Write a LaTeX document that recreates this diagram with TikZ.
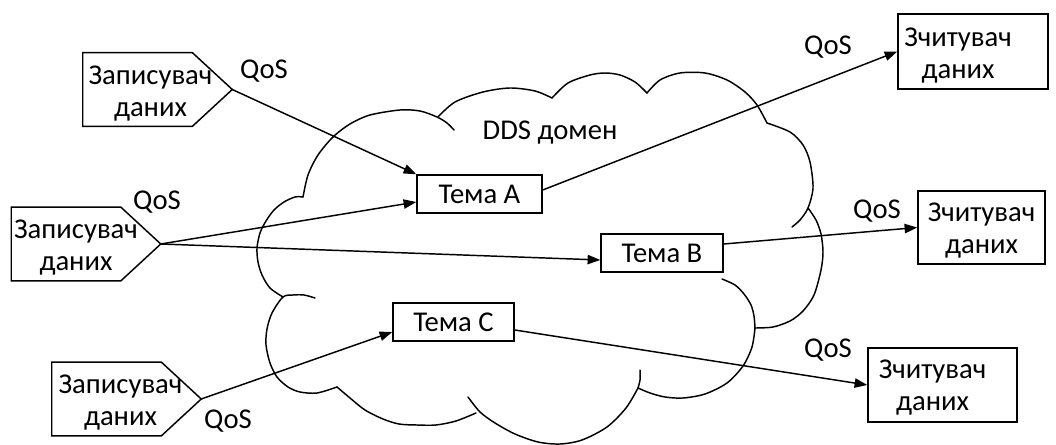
\documentclass[tikz,border=0pt]{standalone}
\usepackage{fontspec}
\setmainfont{Carlito}
\usetikzlibrary{arrows.meta,calc}
\begin{document}
\begin{tikzpicture}[x=0.75pt,y=-0.75pt,
  txt/.style={font=\fontsize{21.5}{24}\selectfont,inner sep=0pt,align=center},
  ln/.style={line width=1.1pt},
  conn/.style={ln,-{Triangle[length=9.5pt,width=7pt]}},
  topic/.style={txt,draw,ln,fill=white,rectangle,minimum height=28.5pt},
  framebox/.style={draw,ln,rectangle,inner sep=0pt},
  wframe/.style={rectangle,inner sep=0pt,minimum width=111.75pt,minimum height=55pt},
  cloudline/.style={ln,line join=round,line cap=round}]
\useasboundingbox (0,0) rectangle (1056,445);
% cloud
\draw[cloudline] plot[smooth] coordinates {(303,197) (308,175) (318,155) (333,137) (350,124) (370,115) (400,110) (420,111) (437,117) (447,123) (454,130)};
\draw[cloudline] plot[smooth] coordinates {(438,117) (455,102) (483,92) (510,88) (535,91) (552,98)};
\draw[cloudline] plot[smooth] coordinates {(552,98) (568,83) (590,75) (605,73) (620,75) (635,82) (647,93)};
\draw[cloudline] plot[smooth] coordinates {(647,93) (660,80) (680,73) (705,73) (727,80) (745,92) (757,105) (767,123)};
\draw[cloudline] plot[smooth] coordinates {(767,123) (790,132) (803,145) (810,162) (813,188) (808,208) (800,220) (792,227)};
\draw[cloudline] plot[smooth] coordinates {(808,208) (816,220) (821,234) (823,252) (821,270) (814,295) (803,311) (790,321) (773,327) (755,328)};
\draw[cloudline] plot[smooth] coordinates {(722,279) (735,285) (744,294) (751,305) (754,316) (755,328)};
\draw[cloudline] plot[smooth] coordinates {(755,328) (752,347) (743,366) (727,383) (705,394) (683,398) (665,397) (650,393) (638,388)};
\draw[cloudline] plot[smooth] coordinates {(640,370) (640,380) (638,388)};
\draw[cloudline] plot[smooth] coordinates {(638,388) (626,408) (607,427) (582,440) (560,444) (538,442) (515,434) (495,423) (480,412) (468,397)};
\draw[cloudline] plot[smooth] coordinates {(476,413) (456,421) (436,425) (417,425) (399,424) (383,419) (365,410) (350,398) (337,387)};
\draw[cloudline] plot[smooth] coordinates {(337,387) (317,393) (300,392) (288,387) (277,377) (270,363) (266,345) (267,329) (272,313) (283,297) (293,295) (304,295) (315,298)};
\draw[cloudline] plot[smooth] coordinates {(283,297) (270,288) (262,275) (258,262) (257,248) (260,233) (266,221) (274,210) (284,202) (295,197) (303,197)};
\node[txt] (dds) at (550,133) {DDS домен};
% writers
\foreach \n/\x/\y/\dx in {w1/157.5/89.5/-7, w2/86/244/-10, w3/126.5/399/-6}{
  \node[wframe] (\n) at (\x,\y) {};
  \draw[ln,line join=miter] (\n.north west) -- ($(\n.north east)+(-40,0)$) -- (\n.east)
     -- ($(\n.south east)+(-40,0)$) -- (\n.south west) -- cycle;
  \node[txt] (\n t) at ($(\n.center)+(\dx,4)$) {Записувач\\даних};
}
% topics
\node[topic,minimum width=93.75pt] (A) at (479.5,194) {Тема A};
\node[topic,minimum width=91.5pt] (B) at (662,253) {Тема B};
\node[topic,minimum width=90.75pt] (C) at (453.5,322) {Тема C};
% readers
\node[framebox,minimum width=112.5pt,minimum height=56.25pt] (r1) at (973,51.5) {};
\node[framebox,minimum width=95.25pt,minimum height=54.75pt] (r2) at (981.5,227.5) {};
\node[framebox,minimum width=111.75pt,minimum height=55.5pt] (r3) at (942.5,385) {};
\node[txt] (r1t) at ($(r1.center)+(-15,4)$) {Зчитувач\\даних};
\node[txt] (r2t) at ($(r2.center)+(0,3)$) {Зчитувач\\даних};
\node[txt] (r3t) at ($(r3.center)+(-10,3)$) {Зчитувач\\даних};
% QoS labels
\node[txt] (q1) at (264,71) {QoS};
\node[txt] (q2) at (157,202) {QoS};
\node[txt] (q3) at (228,421) {QoS};
\node[txt] (q4) at (828,47) {QoS};
\node[txt] (q5) at (877,211) {QoS};
\node[txt] (q6) at (828,350) {QoS};
% connectors
\draw[conn] (w1.east) -- (A.north west);
\draw[conn] (w2.east) -- ($(A.west)+(0,8)$);
\draw[conn] (w2.east) -- ($(B.west)+(0,7)$);
\draw[conn] (w3.east) -- ($(C.west)+(0,10)$);
\draw[conn] ($(A.east)+(0,-4)$) -- (r1.west);
\draw[conn] ($(B.east)+(0,-9)$) -- (r2.west);
\draw[conn] ($(C.east)+(0,8)$) -- (r3.west);
\end{tikzpicture}
\end{document}
